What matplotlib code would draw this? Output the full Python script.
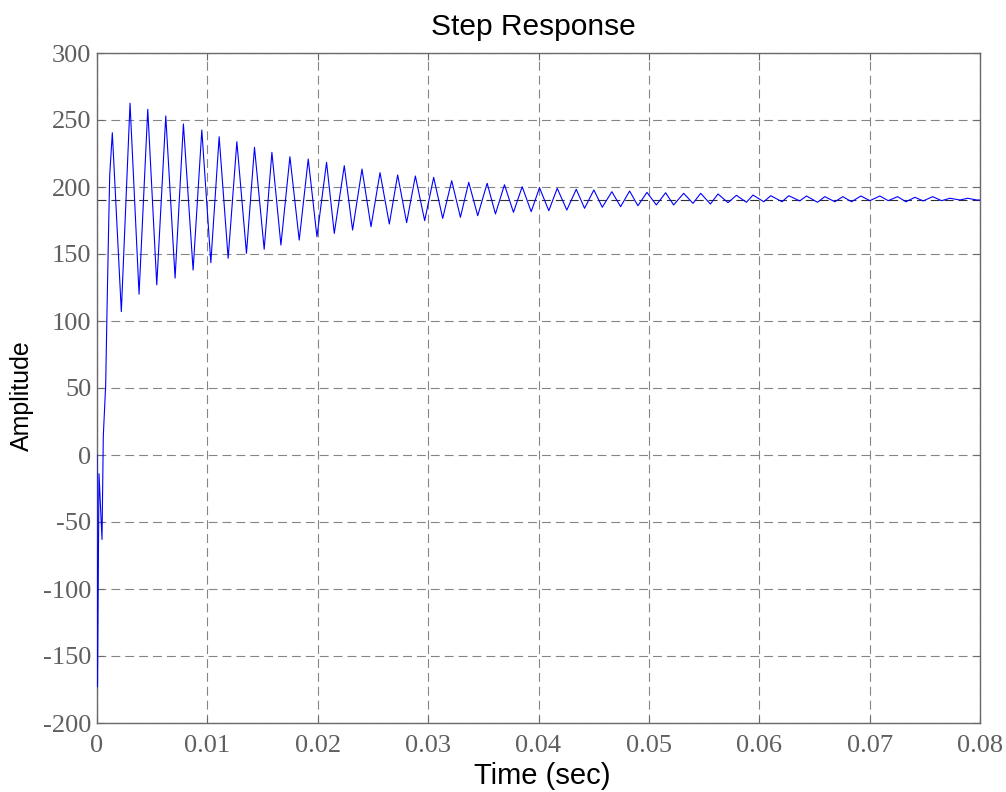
import matplotlib
matplotlib.use("Agg")
import matplotlib.pyplot as plt
import numpy as np

plt.rcParams["axes.unicode_minus"] = False

# ---- data (time in ms, amplitude) ----
start_t = [0.0, 0.045, 0.181, 0.454, 0.571, 0.789, 0.907, 1.061, 1.152]
start_y = [0.0, -173.0, -14.0, -63.0, 14.0, 53.0, 108.0, 173.0, 209.0]

peak_t = [1.388, 2.993, 4.599, 6.231, 7.828, 9.497, 11.066, 12.671, 14.268, 15.846,
          17.478, 19.138, 20.798, 22.404, 24.009, 25.642, 27.238, 28.844, 30.503, 32.136,
          33.678, 35.347, 36.916, 38.522, 40.091, 41.696, 43.420, 45.016, 46.649, 48.254,
          49.823, 51.519, 53.152, 54.694, 56.263, 57.932, 59.438, 61.043, 62.676, 64.281,
          65.941, 67.574, 69.206, 70.930, 72.535, 74.104, 75.710, 77.279, 78.884]
peak_y = [240.5, 262.5, 258.0, 253.0, 247.0, 242.5, 237.5, 233.8, 229.6, 225.9,
          222.6, 220.9, 218.4, 215.9, 213.4, 210.7, 209.0, 208.2, 207.2, 204.7,
          203.5, 202.8, 201.7, 200.2, 199.5, 199.0, 198.3, 197.8, 196.5, 197.0,
          196.0, 195.7, 195.3, 195.3, 194.8, 193.8, 194.0, 193.5, 193.5, 193.3,
          192.8, 192.8, 193.3, 193.3, 192.8, 192.3, 192.8, 191.6, 191.6]

trough_t = [2.204, 3.810, 5.415, 7.075, 8.707, 10.313, 11.882, 13.542, 15.147, 16.662,
            18.322, 19.927, 21.497, 23.156, 24.825, 26.485, 28.054, 29.687, 31.320, 32.925,
            34.494, 36.100, 37.732, 39.338, 40.934, 42.567, 44.172, 45.778, 47.438, 49.007,
            50.676, 52.245, 53.995, 55.574, 57.170, 58.839, 60.408, 62.068, 63.673, 65.279,
            66.848, 68.363, 70.023, 71.683, 73.288, 74.857, 76.526, 78.186, 79.701]
trough_y = [107.0, 120.0, 127.0, 132.0, 138.0, 143.5, 146.8, 150.5, 153.5, 156.7,
            160.4, 162.9, 165.4, 167.9, 170.4, 172.4, 173.4, 174.9, 176.6, 177.4,
            178.6, 179.9, 181.1, 181.6, 182.3, 182.8, 184.1, 184.9, 185.3, 186.0,
            186.6, 186.6, 187.8, 187.3, 188.3, 188.6, 189.0, 189.0, 189.6, 188.6,
            189.0, 189.0, 189.8, 189.8, 189.0, 189.6, 189.8, 190.3, 190.3]

end_t = [80.0]
end_y = [190.3]

steady_state = 190.3

xticks = [0, 0.01, 0.02, 0.03, 0.04, 0.05, 0.06, 0.07, 0.08]
xtick_labels = ["0", "0.01", "0.02", "0.03", "0.04", "0.05", "0.06", "0.07", "0.08"]
yticks = [-200, -150, -100, -50, 0, 50, 100, 150, 200, 250, 300]

# assemble the curve (interleave peaks and troughs)
osc_t, osc_y = [], []
for pt, py, tt, ty in zip(peak_t, peak_y, trough_t, trough_y):
    osc_t += [pt, tt]
    osc_y += [py, ty]
t = np.array(start_t + osc_t + end_t) / 1000.0
y = np.array(start_y + osc_y + end_y)

W, H = 1006, 792
fig = plt.figure(figsize=(W / 100, H / 100), dpi=100)
ax = fig.add_axes([97 / W, 1 - 723 / H, (980 - 97) / W, (723 - 53) / H])

grid_col = "#858585"
spine_col = "#6a6a6a"

ax.set_xlim(0, 0.08)
ax.set_ylim(-200, 300)
ax.set_xticks(xticks)
ax.set_xticklabels(xtick_labels)
ax.set_yticks(yticks)

ax.grid(True, color=grid_col, linestyle=(0, (8, 4.5)), linewidth=0.8)
ax.axhline(steady_state, color="#303030", linestyle=(0, (8, 4.5)), linewidth=0.8, zorder=2)
ax.plot(t, y, color="#0000ff", linewidth=0.8, zorder=3, solid_joinstyle="round")

for s in ax.spines.values():
    s.set_color(spine_col)
    s.set_linewidth(1.0)

ax.tick_params(direction="in", length=5, width=0.8, color=spine_col,
               top=True, right=True, labelcolor="#5f5f5f", labelsize=19)
ax.tick_params(axis="x", pad=9)
ax.tick_params(axis="y", pad=4)
for lab in ax.get_xticklabels() + ax.get_yticklabels():
    lab.set_fontfamily("Liberation Serif")

fig.text(533 / W, 1 - 27 / H, "Step Response", fontsize=21.5, fontfamily="Liberation Sans",
         ha="center", va="center")
fig.text(542 / W, 1 - 776 / H, "Time (sec)", fontsize=21, fontfamily="Liberation Sans",
         ha="center", va="center")
fig.text(22 / W, 1 - 396 / H, "Amplitude", fontsize=18, fontfamily="Liberation Sans",
         ha="center", va="center", rotation=90)

fig.savefig("out.png", dpi=100)
